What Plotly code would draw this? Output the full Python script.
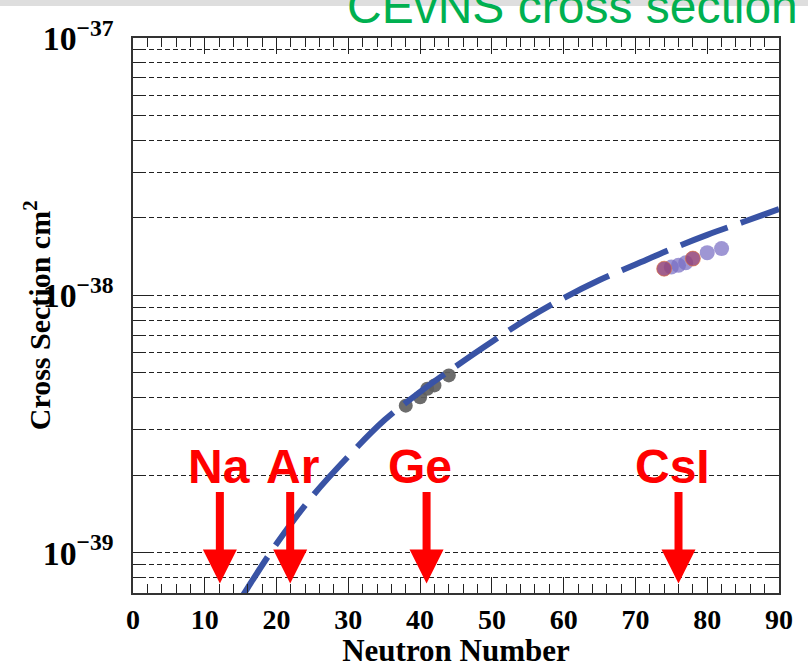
import math
import plotly.graph_objects as go

# ---- data ----
curve_N = [15, 16, 20, 25, 30, 35, 40, 45, 50, 55, 60, 65, 70, 75, 80, 85, 90]
curve_sigma = [6.61e-40, 7.33e-40, 1.084e-39, 1.66e-39, 2.37e-39, 3.27e-39, 4.22e-39,
               5.31e-39, 6.61e-39, 8.13e-39, 9.77e-39, 1.148e-38, 1.318e-38, 1.514e-38,
               1.718e-38, 1.928e-38, 2.163e-38]

ge_N = [38, 40, 41, 42, 44]
ge_sigma = [3.73e-39, 4.02e-39, 4.34e-39, 4.47e-39, 4.89e-39]

xe_N = [74, 75, 76, 77, 78, 80, 82]
xe_sigma = [1.27e-38, 1.29e-38, 1.31e-38, 1.34e-38, 1.39e-38, 1.466e-38, 1.52e-38]

csi_N = [74, 78]
csi_sigma = [1.27e-38, 1.39e-38]

target_names = ["Na", "Ar", "Ge", "CsI"]
target_arrow_N = [12.1, 21.9, 40.9, 76.0]
target_label_N = [12.0, 22.2, 40.0, 75.1]
arrow_tip_sigma = [7.6e-40, 7.6e-40, 7.6e-40, 7.6e-40]
label_sigma = [2.16e-39, 2.16e-39, 2.16e-39, 2.16e-39]

x_range = [0, 90]
y_range_sigma = [6.98e-40, 1e-37]

serif = "Liberation Serif"

fig = go.Figure()

fig.add_trace(go.Scatter(
    x=ge_N, y=ge_sigma, mode="markers",
    marker=dict(size=14, color="rgba(95,95,95,0.92)", line=dict(width=0)),
    showlegend=False, hoverinfo="skip"))

fig.add_trace(go.Scatter(
    x=xe_N, y=xe_sigma, mode="markers",
    marker=dict(size=15, color="rgba(120,110,195,0.72)", line=dict(width=0)),
    showlegend=False, hoverinfo="skip"))

fig.add_trace(go.Scatter(
    x=csi_N, y=csi_sigma, mode="markers",
    marker=dict(size=15, color="rgba(165,40,70,0.5)",
                line=dict(width=1, color="rgba(235,120,50,0.6)")),
    showlegend=False, hoverinfo="skip"))

fig.add_trace(go.Scatter(
    x=curve_N, y=curve_sigma, mode="lines",
    line=dict(color="#3953a5", width=6, dash="50px,14px", shape="spline"),
    showlegend=False, hoverinfo="skip"))

annotations = []
for name, ax_n, lx_n, tip, ly in zip(target_names, target_arrow_N, target_label_N,
                                     arrow_tip_sigma, label_sigma):
    annotations.append(dict(
        x=ax_n, y=math.log10(tip), xref="x", yref="y", text="",
        showarrow=True, arrowhead=2, arrowwidth=8, arrowsize=0.85,
        arrowcolor="#ff0000", ax=0, ay=-93, standoff=0, startstandoff=0))
    annotations.append(dict(
        x=lx_n, y=math.log10(ly), xref="x", yref="y", text=name,
        showarrow=False, xanchor="center", yanchor="middle",
        font=dict(family="Liberation Sans", size=48, color="#ff0000", weight="bold")))

annotations.append(dict(
    x=1.0325, y=1.005, xref="paper", yref="paper", text="CEvNS cross section",
    showarrow=False, xanchor="right", yanchor="bottom",
    font=dict(family="Liberation Sans", size=48, color="#00b050")))

# y-axis title
annotations.append(dict(
    x=-0.149, y=0.5, xref="paper", yref="paper", text="Cross Section cm<sup>2</sup>",
    showarrow=False, xanchor="center", yanchor="middle", textangle=-90,
    font=dict(family=serif, size=30, color="black", weight="bold")))

fig.update_layout(
    width=808, height=668,
    margin=dict(l=133, r=29, t=38, b=75, autoexpand=False),
    paper_bgcolor="white", plot_bgcolor="white",
    annotations=annotations,
    shapes=[dict(type="rect", xref="paper", yref="paper",
                 x0=-0.21, x1=1.06, y0=1.0577, y1=1.08,
                 fillcolor="#dedede", line=dict(width=0), layer="below")],
)

fig.update_xaxes(
    range=x_range, dtick=10, tick0=0, automargin=False,
    ticks="inside", ticklen=16, tickwidth=1, tickcolor="#222",
    showline=True, linecolor="#333", linewidth=2, mirror="ticks",
    showgrid=False, zeroline=False,
    minor=dict(dtick=2, ticks="inside", ticklen=9, tickwidth=1, tickcolor="#222", showgrid=False),
    tickfont=dict(family=serif, size=28, color="black", weight="bold"),
    ticklabelstandoff=0,
    title=dict(text="Neutron Number", standoff=3,
               font=dict(family=serif, size=31, color="black", weight="bold")),
)

fig.update_yaxes(
    type="log", range=[math.log10(v) for v in y_range_sigma], dtick=1,
    exponentformat="power", showexponent="all", automargin=False,
    ticks="inside", ticklen=20, tickwidth=1, tickcolor="#222",
    showline=True, linecolor="#333", linewidth=2, mirror="ticks",
    showgrid=True, gridcolor="#222", gridwidth=1, griddash="5px,3px",
    zeroline=False,
    minor=dict(dtick="D1", ticks="inside", ticklen=12, tickwidth=1, tickcolor="#222",
               showgrid=True, gridcolor="#222", gridwidth=1, griddash="5px,3px"),
    tickfont=dict(family=serif, size=27, color="black", weight="bold"),
    ticklabelstandoff=12,
)

fig.write_html("out.html")
